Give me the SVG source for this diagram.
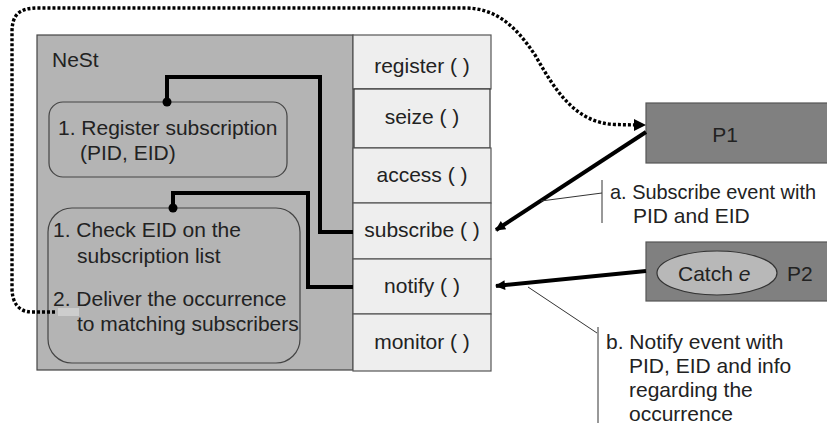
<svg xmlns="http://www.w3.org/2000/svg" width="827" height="430" viewBox="0 0 827 430">
<defs>
<marker id="arr" viewBox="0 0 10 10" refX="9" refY="5" markerWidth="14" markerHeight="10" markerUnits="userSpaceOnUse" orient="auto">
<path d="M0,0 L10,5 L0,10 Z" fill="#000"/>
</marker>
</defs>
<style>
text{font-family:"Liberation Sans",Arial,sans-serif;font-size:21px;fill:#222}
.m{fill:#eeeeee;stroke:#555;stroke-width:1.2}
.rb{fill:none;stroke:#444;stroke-width:1.2}
.thick{fill:none;stroke:#000;stroke-width:4}
.dot{fill:none;stroke:#000;stroke-width:3.4;stroke-dasharray:3 2}
.lead{fill:none;stroke:#333;stroke-width:1}
.proc{fill:#808080;stroke:#555;stroke-width:1.2}
</style>
<rect width="827" height="430" fill="#fff"/>
<g id="nest">
<rect x="37" y="35" width="316" height="335" fill="#b4b4b4" stroke="#444" stroke-width="1.2"/>
<text x="52" y="67">NeSt</text>
<rect x="58" y="308" width="21" height="8" fill="#cdcdcd"/>
</g>
<g id="box-register-sub">
<rect class="rb" x="49" y="102" width="238" height="75" rx="14"/>
<text x="58" y="135">1. Register subscription</text>
<text x="80" y="160">(PID, EID)</text>
</g>
<g id="box-notify">
<rect class="rb" x="48" y="208" width="252" height="155" rx="24"/>
<text x="53" y="237">1. Check EID on the</text>
<text x="77" y="263">subscription list</text>
<text x="53" y="306">2. Deliver the occurrence</text>
<text x="77" y="331">to matching subscribers</text>
</g>
<g id="m-register"><rect class="m" x="353" y="35" width="138" height="54"/><text x="422" y="73" text-anchor="middle">register ( )</text></g>
<g id="m-seize"><rect class="m" x="354" y="89" width="136" height="59" style="stroke:#333"/><text x="422" y="124" text-anchor="middle">seize ( )</text></g>
<g id="m-access"><rect class="m" x="353" y="148" width="138" height="55"/><text x="422" y="182" text-anchor="middle">access ( )</text></g>
<g id="m-subscribe"><rect class="m" x="353" y="203" width="138" height="56"/><text x="422" y="237" text-anchor="middle">subscribe ( )</text></g>
<g id="m-notify"><rect class="m" x="353" y="259" width="138" height="55"/><text x="422" y="293" text-anchor="middle">notify ( )</text></g>
<g id="m-monitor"><rect class="m" x="353" y="314" width="138" height="57"/><text x="422" y="349" text-anchor="middle">monitor ( )</text></g>
<g id="p1">
<rect class="proc" x="646" y="103" width="190" height="60"/>
<text x="725" y="142" text-anchor="middle">P1</text>
</g>
<g id="p2">
<rect class="proc" x="646" y="242" width="190" height="59"/>
<ellipse cx="717" cy="273" rx="60" ry="22" fill="#b8b8b8" stroke="#333" stroke-width="1.2"/>
<text x="678" y="281">Catch <tspan font-style="italic">e</tspan></text>
<text x="787" y="281">P2</text>
</g>
<g id="label-a">
<text x="610" y="199" textLength="206" lengthAdjust="spacingAndGlyphs">a. Subscribe event with</text>
<text x="633" y="223">PID and EID</text>
</g>
<g id="label-b">
<text x="606" y="349">b. Notify event with</text>
<text x="629" y="373">PID, EID and info</text>
<text x="629" y="397">regarding the</text>
<text x="629" y="421">occurrence</text>
</g>
<g id="connectors">
<path class="thick" d="M167 102 L167 77 L320 77 L320 232 L353 232"/>
<circle cx="167" cy="102" r="4.5" fill="#000"/>
<path class="thick" d="M173 208 L173 193 L308 193 L308 287 L353 287"/>
<circle cx="173" cy="208" r="4.5" fill="#000"/>
<path class="thick" d="M646 132 L496 230" marker-end="url(#arr)"/>
<path class="thick" d="M646 271 L496 286" marker-end="url(#arr)"/>
<path class="dot" d="M55 312 L32 312 C18 312 12 302 12 288 L12 32 C12 14 20 8 38 8 L465 8 C495 8 515 25 535 55 C555 90 575 123 615 124.5 L637 125"/>
<path d="M634 119 L646 125 L634 131 Z" fill="#000"/>
<path class="lead" d="M541 201 L602 193 M602 180 L602 223"/>
<path class="lead" d="M528 287 L597 333 M598 327 L598 423"/>
</g>
</svg>
